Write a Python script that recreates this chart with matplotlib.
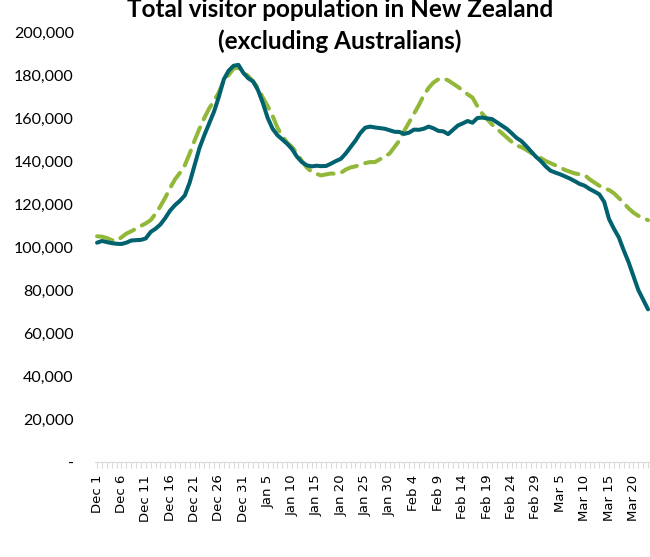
import numpy as np
import matplotlib
matplotlib.use("Agg")
import matplotlib.pyplot as plt
from matplotlib.ticker import FuncFormatter

# daily values (thousands), Dec 1 onwards
visitors_2020 = [102.0, 102.8, 102.3, 101.8, 101.5, 101.4, 102.0, 103.0, 103.2, 103.3,
                 104.0, 107.0, 108.5, 110.5, 113.5, 117.0, 119.5, 121.5, 124.0, 130.0,
                 138.0, 146.0, 152.0, 157.5, 163.0, 170.0, 178.0, 182.0, 184.3, 184.7,
                 181.0, 178.5, 177.0, 173.0, 167.0, 160.0, 155.0, 152.0, 150.0, 148.0,
                 145.5, 142.0, 139.5, 138.0, 137.5, 137.8, 137.6, 137.7, 138.8, 140.0,
                 141.0, 143.5, 146.5, 149.5, 153.0, 155.5, 156.0, 155.6, 155.3, 155.0,
                 154.3, 153.6, 153.5, 152.6, 153.2, 154.6, 154.5, 155.0, 156.0, 155.2,
                 154.0, 153.8, 152.5, 154.5, 156.5, 157.5, 158.6, 157.8, 160.0, 160.2,
                 159.8, 159.5, 158.0, 156.5, 155.0, 153.0, 150.8, 149.3, 147.0, 144.5,
                 142.0, 140.0, 137.5, 135.5, 134.6, 133.8, 132.8, 131.8, 130.6, 129.3,
                 128.5, 127.0, 125.8, 124.5, 121.0, 113.0, 108.5, 104.5, 98.5, 93.0,
                 86.5, 80.0, 75.5, 71.0]

visitors_2019 = [105.0, 104.8, 104.2, 103.2, 102.8, 104.5, 106.2, 107.3, 108.5, 109.8,
                 111.0, 112.5, 115.5, 119.0, 123.0, 127.5, 131.5, 134.5, 138.0, 143.5,
                 149.5, 155.0, 160.0, 164.5, 168.0, 172.0, 177.5, 180.0, 183.0, 183.5,
                 181.5, 179.5, 177.0, 174.0, 169.5, 165.5, 161.0, 155.5, 151.5, 148.5,
                 146.5, 143.5, 140.0, 137.0, 135.0, 134.0, 133.3, 133.8, 134.2, 134.0,
                 134.5, 136.0, 137.0, 137.5, 138.3, 139.0, 139.5, 139.5, 140.8, 142.0,
                 143.5, 146.5, 149.5, 154.0, 158.0, 162.0, 166.0, 170.5, 174.0, 176.5,
                 178.0, 178.5, 177.5, 176.0, 174.5, 172.8, 171.0, 169.5, 165.5, 162.0,
                 159.5, 157.0, 155.0, 153.0, 151.0, 149.0, 147.2, 146.5, 145.2, 143.8,
                 142.3, 141.4, 140.0, 139.0, 138.0, 137.0, 135.8, 135.0, 134.2, 133.8,
                 133.5, 131.5, 130.0, 128.5, 127.3, 126.5, 125.0, 122.8, 120.5, 118.0,
                 116.0, 114.5, 113.5, 112.5]

tick_labels = ["Dec 1", "Dec 6", "Dec 11", "Dec 16", "Dec 21", "Dec 26", "Dec 31",
               "Jan 5", "Jan 10", "Jan 15", "Jan 20", "Jan 25", "Jan 30", "Feb 4",
               "Feb 9", "Feb 14", "Feb 19", "Feb 24", "Feb 29", "Mar 5", "Mar 10",
               "Mar 15", "Mar 20"]

days = np.arange(len(visitors_2020))
y2020 = np.array(visitors_2020) * 1000
y2019 = np.array(visitors_2019) * 1000

fig = plt.figure(figsize=(6.5, 5.57), dpi=100)
ax = fig.add_axes([94.6 / 650, 95 / 557, 1 - 94.6 / 650, 430 / 557])

ax.plot(days, y2019, color="#92b83a", lw=2.9, ls=(0, (4, 2.2)),
        dash_capstyle="round", zorder=2)
ax.plot(days, y2020, color="#00626f", lw=2.9, solid_capstyle="round", zorder=3)

ax.set_xlim(-0.5, 113.4)
ax.set_ylim(0, 200000)

ax.set_yticks(np.arange(0, 200001, 20000))
ax.yaxis.set_major_formatter(FuncFormatter(lambda v, p: "-" if v == 0 else f"{int(v):,}"))
for lbl in ax.get_yticklabels():
    lbl.set_fontfamily("Lato")
    lbl.set_fontsize(11.5)
ax.tick_params(axis="y", length=0, pad=15)

ax.set_xticks(np.arange(0, len(tick_labels) * 5, 5))
ax.set_xticklabels(tick_labels, rotation=90, fontsize=9.5)
ax.set_xticks(days, minor=True)
ax.tick_params(axis="x", which="both", length=4, width=0.8, color="#d9d9d9",
               direction="out", pad=5)

for s in ["top", "right", "left"]:
    ax.spines[s].set_visible(False)
ax.spines["bottom"].set_color("#d9d9d9")

fig.text(340 / 650, 1 - 53 / 557,
         "Total visitor population in New Zealand\n(excluding Australians)",
         ha="center", va="bottom", fontsize=17.5, fontweight="bold",
         fontfamily="Lato", linespacing=1.45)

fig.savefig("out.png", dpi=100)
